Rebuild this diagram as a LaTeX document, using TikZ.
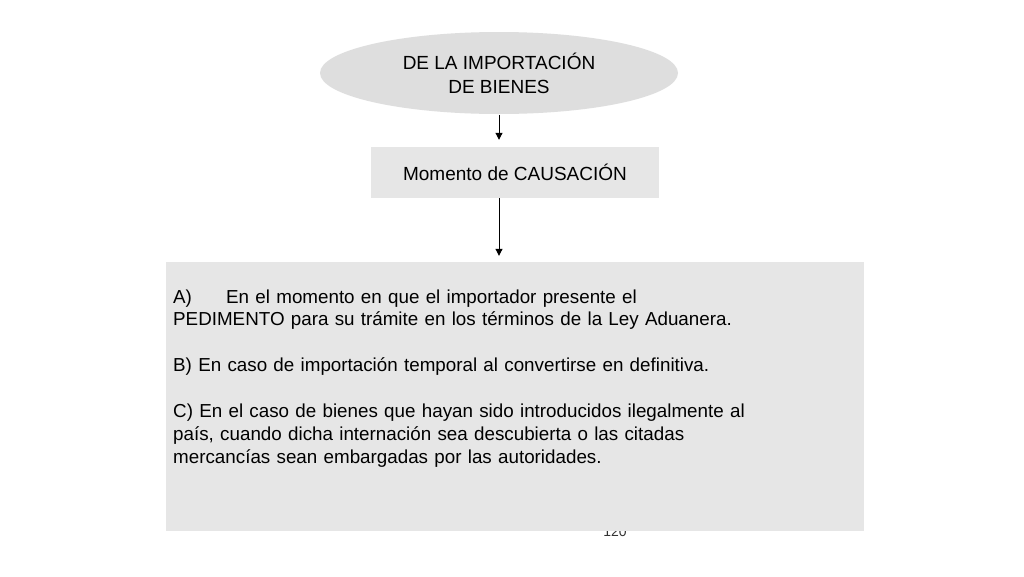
\documentclass[tikz,border=0pt]{standalone}
\usepackage{fontspec}
\setmainfont{Liberation Sans}
\usetikzlibrary{arrows.meta,shapes.geometric}
\definecolor{bg}{HTML}{FFFFFF}
\definecolor{ovalbg}{HTML}{DEDEDE}
\definecolor{boxbg}{HTML}{E6E6E6}
\definecolor{ink}{HTML}{000000}
\definecolor{pagenum}{HTML}{333333}
\tikzset{
  oval/.style={ellipse, fill=ovalbg, minimum width=358pt, minimum height=82pt, inner sep=0pt, align=center, text=ink, font=\fontsize{19}{24}\selectfont},
  stage/.style={rectangle, fill=boxbg, minimum width=288pt, minimum height=51pt, inner sep=0pt, text=ink, font=\fontsize{19}{23}\selectfont},
  panel/.style={rectangle, fill=boxbg, minimum width=698pt, minimum height=269pt, inner sep=0pt},
  body/.style={text=ink, align=left, text width=680pt, inner sep=0pt, font=\fontsize{18.8}{22.9}\selectfont},
  link/.style={draw=ink, line width=1pt, -{Triangle[length=7pt,width=7pt]}},
}
\begin{document}
\begin{tikzpicture}[x=1pt,y=-1pt]
  \useasboundingbox[fill=bg] (0,0) rectangle (1024,576);
  \node[anchor=base, inner sep=0pt, text=pagenum, font=\fontsize{14}{16}\selectfont] (pg) at (615,536) {120};
  \node[oval] (imp) at (499,73) {DE LA IMPORTACIÓN\\DE BIENES};
  \node[stage] (cau) at (515,172.5) {Momento de CAUSACIÓN};
  \node[panel] (sup) at (515,396.5) {};
  \node[body, anchor=base west] (txt) at (173,303) {%
    \makebox[53pt][l]{A)}En el momento en que el importador presente el\\
    PEDIMENTO para su trámite en los términos de la Ley Aduanera.\\[22.9pt]
    B) En caso de importación temporal al convertirse en definitiva.\\[22.9pt]
    C) En el caso de bienes que hayan sido introducidos ilegalmente al\\
    país, cuando dicha internación sea descubierta o las citadas\\
    mercancías sean embargadas por las autoridades.};
  \draw[link, shorten <=1pt, shorten >=7pt] (imp.south) -- (imp.south |- cau.north);
  \draw[link, shorten >=6pt] (imp.south |- cau.south) -- (imp.south |- sup.north);
\end{tikzpicture}
\end{document}
